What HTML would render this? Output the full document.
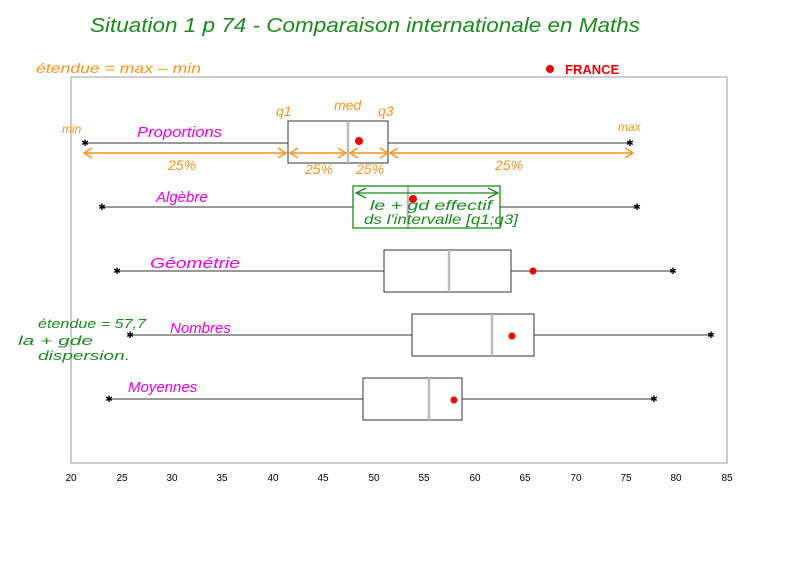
<!DOCTYPE html>
<html><head><meta charset="utf-8"><style>
body{margin:0;background:#fff}
svg{display:block}
.h{font-family:"Liberation Sans",sans-serif;font-style:italic}
</style></head><body>
<svg width="800" height="565" viewBox="0 0 800 565" xmlns="http://www.w3.org/2000/svg">
<rect x="71" y="77" width="656" height="386" fill="none" stroke="#999" stroke-width="1"/>
<g font-family="Liberation Sans,sans-serif" font-size="10" text-anchor="middle" fill="#000">
<text x="71" y="481">20</text><text x="122" y="481">25</text><text x="172" y="481">30</text><text x="222" y="481">35</text><text x="273" y="481">40</text><text x="323" y="481">45</text><text x="374" y="481">50</text><text x="424" y="481">55</text><text x="475" y="481">60</text><text x="525" y="481">65</text><text x="576" y="481">70</text><text x="626" y="481">75</text><text x="676" y="481">80</text><text x="727" y="481">85</text>
</g>
<g stroke="#333" stroke-width="1" fill="none">
<line x1="85" y1="143" x2="630" y2="143"/><rect x="288" y="121" width="100" height="42" fill="#fff"/>
<line x1="102" y1="207" x2="637" y2="207"/><rect x="353" y="186" width="147" height="42" fill="#fff"/>
<line x1="117" y1="271" x2="673" y2="271"/><rect x="384" y="250" width="127" height="42" fill="#fff"/>
<line x1="130" y1="335" x2="711" y2="335"/><rect x="412" y="314" width="122" height="42" fill="#fff"/>
<line x1="109" y1="399" x2="654" y2="399"/><rect x="363" y="378" width="99" height="42" fill="#fff"/>
</g>
<g stroke="#bbb" stroke-width="2.5">
<line x1="348" y1="121" x2="348" y2="163"/><line x1="408" y1="186" x2="408" y2="228"/><line x1="449" y1="250" x2="449" y2="292"/><line x1="492" y1="314" x2="492" y2="356"/><line x1="429" y1="378" x2="429" y2="420"/>
</g>
<g font-family="Liberation Sans,sans-serif" font-size="9" text-anchor="middle" fill="#000">
<text x="85" y="146">✱</text><text x="630" y="146">✱</text><text x="102" y="210">✱</text><text x="637" y="210">✱</text><text x="117" y="274">✱</text><text x="673" y="274">✱</text><text x="130" y="338">✱</text><text x="711" y="338">✱</text><text x="109" y="402">✱</text><text x="654" y="402">✱</text>
</g>
<g fill="#e00"><circle cx="359" cy="141" r="4"/><circle cx="413" cy="199" r="4"/><circle cx="533" cy="271" r="3.5"/><circle cx="512" cy="336" r="3.5"/><circle cx="454" cy="400" r="3.5"/><circle cx="550" cy="69" r="4"/></g>
<g stroke="#f7941d" stroke-width="1.5" fill="none">
<line x1="84" y1="153" x2="286" y2="153"/><polyline points="92,148 84,153 92,158"/><polyline points="278,148 286,153 278,158"/>
<line x1="290" y1="153" x2="346" y2="153"/><polyline points="298,148 290,153 298,158"/><polyline points="338,148 346,153 338,158"/>
<line x1="350" y1="153" x2="388" y2="153"/><polyline points="358,148 350,153 358,158"/><polyline points="380,148 388,153 380,158"/>
<line x1="390" y1="153" x2="633" y2="153"/><polyline points="398,148 390,153 398,158"/><polyline points="625,148 633,153 625,158"/>
</g>
<g class="h" fill="#f7941d" font-size="14">
<text x="168" y="170">25%</text><text x="305" y="174">25%</text><text x="356" y="174">25%</text><text x="495" y="170">25%</text>
<text x="62" y="133" font-size="12">min</text><text x="618" y="131" font-size="12">max</text>
<text x="276" y="116">q1</text><text x="334" y="110">med</text><text x="378" y="116">q3</text>
<text x="36" y="73" font-size="14" textLength="165" lengthAdjust="spacingAndGlyphs">étendue = max – min</text>
</g>
<g stroke="#1a8a1a" stroke-width="1.3" fill="none">
<line x1="356" y1="193" x2="498" y2="193"/><polyline points="366,188 356,193 366,198"/><polyline points="488,188 498,193 488,198"/>
<rect x="353" y="186" width="147" height="42"/>
</g>
<g class="h" fill="#1a8a1a">
<text x="370" y="210" font-size="14" textLength="122" lengthAdjust="spacingAndGlyphs">le + gd effectif</text>
<text x="364" y="224" font-size="14" textLength="154" lengthAdjust="spacingAndGlyphs">ds l'intervalle [q1;q3]</text>
<text x="38" y="328" font-size="13" textLength="108" lengthAdjust="spacingAndGlyphs">étendue = 57,7</text>
<text x="18" y="345" font-size="13" textLength="75" lengthAdjust="spacingAndGlyphs">la + gde</text>
<text x="38" y="360" font-size="13" textLength="92" lengthAdjust="spacingAndGlyphs">dispersion.</text>
<text x="90" y="32" font-size="20" textLength="550" lengthAdjust="spacingAndGlyphs">Situation 1  p 74 -   Comparaison internationale en Maths</text>
</g>
<g class="h" fill="#ee00ee" font-size="15">
<text x="137" y="137" textLength="85" lengthAdjust="spacingAndGlyphs">Proportions</text><text x="156" y="202">Algèbre</text><text x="150" y="268" textLength="90" lengthAdjust="spacingAndGlyphs">Géométrie</text><text x="170" y="333">Nombres</text><text x="128" y="392">Moyennes</text>
</g>
<text x="565" y="74" font-family="Liberation Sans,sans-serif" font-weight="bold" font-size="13" fill="#e00">FRANCE</text>
</svg>
</body></html>
